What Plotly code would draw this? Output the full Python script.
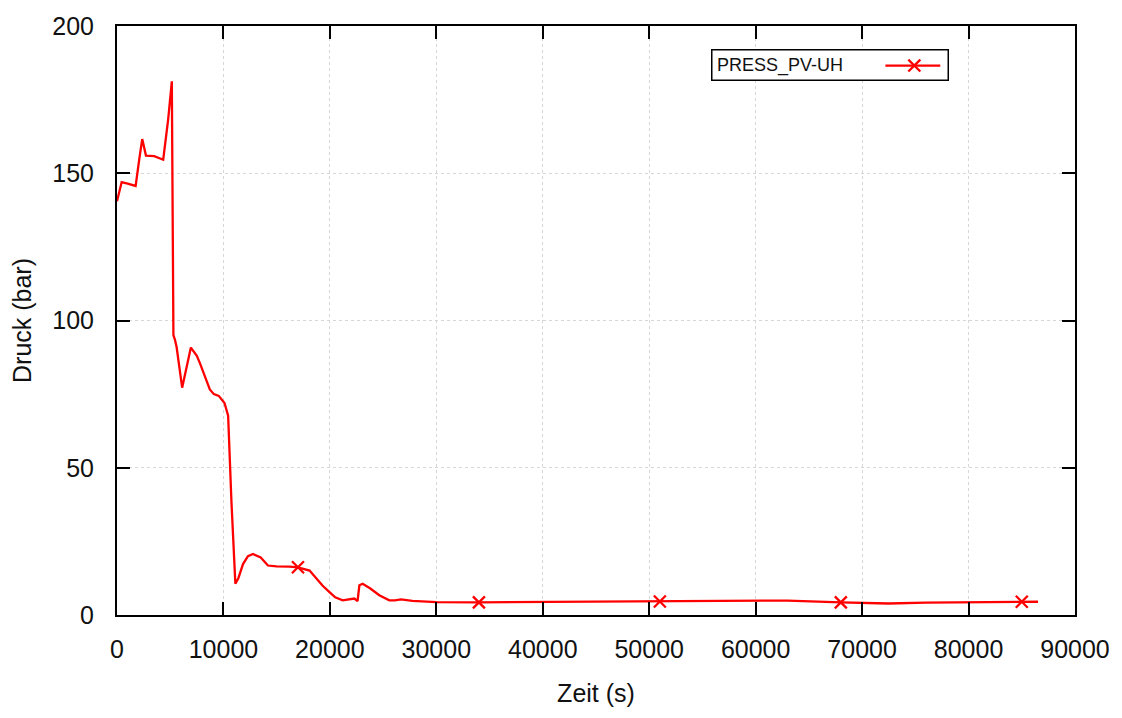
import numpy as np
import plotly.graph_objects as go

# Pressure history PRESS_PV-UH
zeit_s = [
    0, 440, 1000, 1750, 2100, 2370, 2720, 3500, 4340, 4800, 5150, 5300,
    5440, 5600, 6120, 6940, 7500, 7780, 8720, 9100, 9560, 10100, 10440,
    10750, 11120, 11400, 11840, 12300, 12780, 13500, 14180, 15000, 16200,
    17000, 18090, 18600, 19300, 19960, 20500, 21200, 22300, 22600, 22770,
    23080, 23800, 24640, 25580, 26100, 26680, 27750, 30000, 34000, 40000,
    45000, 51000, 55000, 59340, 63000, 68000, 72470, 76000, 80000, 85000,
    86530,
]
druck_bar = [
    140.5, 147.0, 146.5, 145.7, 155.0, 161.6, 156.0, 155.8, 154.6, 168.0,
    181.2, 95.0, 93.5, 91.0, 77.2, 90.8, 88.0, 85.6, 76.6, 75.0, 74.4,
    72.0, 67.7, 38.6, 10.6, 12.5, 17.3, 20.0, 20.7, 19.5, 16.8, 16.5,
    16.4, 16.2, 15.1, 13.0, 10.0, 7.8, 6.0, 5.0, 5.6, 4.7, 10.1, 10.6,
    9.0, 6.7, 5.0, 5.0, 5.3, 4.8, 4.4, 4.3, 4.4, 4.5, 4.6, 4.7, 4.8,
    4.9, 4.3, 3.9, 4.2, 4.4, 4.5, 4.5,
]
# every 17000 s a point symbol is drawn on the curve
punkt_zeiten = [17000, 34000, 51000, 68000, 85000]

x_ticks = [0, 10000, 20000, 30000, 40000, 50000, 60000, 70000, 80000, 90000]
x_labels = ["0", "10000", "20000", "30000", "40000", "50000", "60000",
            "70000", "80000", "90000"]
y_ticks = [0, 50, 100, 150, 200]
y_labels = ["0", "50", "100", "150", "200"]

FONT = "Liberation Sans, Arial, sans-serif"
RED = "#ff0000"

t = np.array(zeit_s)
p = np.array(druck_bar)
idx = [i for i, v in enumerate(zeit_s) if v in punkt_zeiten]

fig = go.Figure()
fig.add_trace(go.Scatter(
    x=t, y=p, mode="lines", line=dict(color=RED, width=2.3),
    showlegend=False, hoverinfo="skip",
))
fig.add_trace(go.Scatter(
    x=t[idx], y=p[idx], mode="markers",
    marker=dict(symbol="x-thin", size=12, line=dict(color=RED, width=2.3)),
    showlegend=False,
))

# plot area in pixels -> paper coordinates helper
L, R, T, B = 117, 1077, 19, 615
def px(x):
    return (x - L) / (R - L)
def py(y):
    return (B - y) / (B - T)

shapes = [
    # legend box
    dict(type="rect", xref="paper", yref="paper",
         x0=px(713), x1=px(950), y0=py(74), y1=py(43),
         line=dict(color="black", width=1.5), fillcolor="white", layer="above"),
    # legend key line
    dict(type="line", xref="paper", yref="paper",
         x0=px(887), x1=px(942), y0=py(59), y1=py(59),
         line=dict(color=RED, width=2.3), layer="above"),
    # legend key symbol (x)
    dict(type="line", xref="paper", yref="paper",
         x0=px(910), x1=px(922), y0=py(53), y1=py(65),
         line=dict(color=RED, width=2.3), layer="above"),
    dict(type="line", xref="paper", yref="paper",
         x0=px(910), x1=px(922), y0=py(65), y1=py(53),
         line=dict(color=RED, width=2.3), layer="above"),
]
annotations = [
    dict(text="PRESS_PV-UH", xref="paper", yref="paper",
         x=px(716), y=py(59), xanchor="left", yanchor="middle",
         showarrow=False, font=dict(family=FONT, size=18, color="#111111")),
]

axis_common = dict(
    showline=True, linecolor="black", linewidth=2, mirror="ticks",
    ticks="inside", ticklen=13, tickwidth=2, tickcolor="black",
    showgrid=True, gridcolor="#d6d6d6", griddash="dot", gridwidth=1,
    zeroline=False, tickfont=dict(family=FONT, size=25, color="#111111"),
)

fig.update_layout(
    width=1122, height=718,
    margin=dict(l=L, r=1122 - R, t=T, b=718 - B),
    paper_bgcolor="white", plot_bgcolor="white",
    font=dict(family=FONT, color="#111111"),
    shapes=shapes, annotations=annotations,
    xaxis=dict(
        range=[0, 90000], tickvals=x_ticks, ticktext=x_labels,
        ticklabelstandoff=11,
        title=dict(text="Zeit (s)", font=dict(family=FONT, size=25), standoff=22),
        **axis_common,
    ),
    yaxis=dict(
        range=[0, 200], tickvals=y_ticks, ticktext=y_labels,
        ticklabelstandoff=16,
        title=dict(text="Druck (bar)", font=dict(family=FONT, size=25), standoff=14),
        **axis_common,
    ),
)

fig.write_html("out.html")
